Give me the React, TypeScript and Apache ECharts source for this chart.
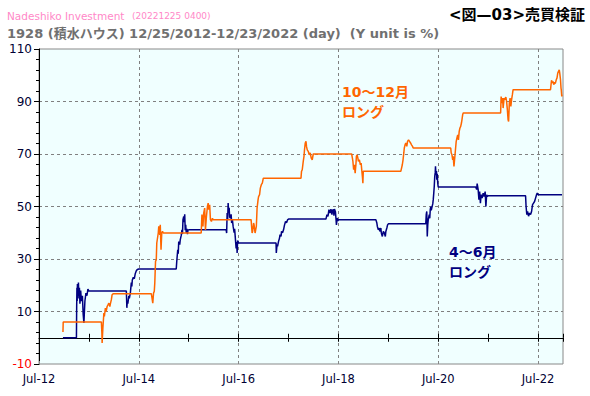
import React, { useEffect, useRef } from "react";
import * as echarts from "echarts";

// x values are decimal years, y values are % (cumulative return)
const X_ORIGIN = 2012.5; // Jul-12, left edge of plot
const X_END = 2023.0;
const Y_MIN = -10;
const Y_MAX = 110;

const yTickLabels = [-10, 10, 30, 50, 70, 90, 110];
const xTickLabels = ["Jul-12", "Jul-14", "Jul-16", "Jul-18", "Jul-20", "Jul-22"];

// 4～6月 ロング (Apr-Jun long)
const aprJunLong: [number, number][] = [
  [2012.98, 0],
  [2013.25, 0], [2013.255, 12], [2013.26, 19], [2013.265, 14], [2013.27, 20.5], [2013.28, 16], [2013.29, 21], [2013.30, 15],
  [2013.31, 19], [2013.32, 13], [2013.335, 18], [2013.35, 14], [2013.37, 16], [2013.385, 9], [2013.40, 5.6], [2013.41, 10],
  [2013.42, 14], [2013.44, 17], [2013.46, 16], [2013.48, 18.5], [2013.50, 17.8],
  [2014.25, 17.8], [2014.255, 15], [2014.26, 11.4], [2014.27, 14], [2014.28, 13], [2014.30, 16], [2014.31, 15], [2014.33, 17],
  [2014.35, 21], [2014.36, 19.5], [2014.37, 22], [2014.39, 23], [2014.41, 22.5], [2014.43, 24.5], [2014.45, 25.5], [2014.47, 26], [2014.50, 26.2],
  [2015.25, 26.2], [2015.26, 29], [2015.28, 33.5], [2015.29, 32], [2015.30, 36.7], [2015.32, 35.5], [2015.33, 37.3], [2015.35, 39],
  [2015.365, 41.1], [2015.375, 39.5], [2015.385, 45], [2015.40, 46.2], [2015.41, 44], [2015.42, 47], [2015.43, 41], [2015.44, 43],
  [2015.45, 40], [2015.465, 41.5], [2015.475, 39.5], [2015.485, 41], [2015.50, 41.1],
  [2016.25, 41.1], [2016.26, 39.9], [2016.27, 47.5], [2016.28, 45], [2016.29, 51.3], [2016.30, 48], [2016.31, 49.5], [2016.32, 46],
  [2016.335, 45.6], [2016.35, 47], [2016.36, 43.7], [2016.375, 45], [2016.39, 42.4], [2016.41, 40], [2016.42, 41.5], [2016.43, 39],
  [2016.45, 34], [2016.46, 36.5], [2016.47, 32.3], [2016.48, 37], [2016.50, 36.1],
  [2017.25, 36.1], [2017.255, 32.3], [2017.27, 35.5], [2017.28, 34.8], [2017.30, 36.7], [2017.32, 38], [2017.33, 39.3], [2017.35, 38.6],
  [2017.36, 40.5], [2017.38, 40], [2017.40, 41.1], [2017.42, 43], [2017.44, 44.3], [2017.46, 43.8], [2017.48, 44.9], [2017.50, 45.2],
  [2018.25, 45.2], [2018.27, 46.9], [2018.29, 46.2], [2018.31, 48.8], [2018.33, 47.5], [2018.35, 49], [2018.37, 46.9], [2018.38, 48.5],
  [2018.40, 48.8], [2018.41, 46.5], [2018.42, 49], [2018.44, 48], [2018.45, 45.5], [2018.46, 43], [2018.475, 45.6], [2018.49, 44.5], [2018.50, 45],
  [2019.25, 45], [2019.27, 43.7], [2019.28, 42.4], [2019.30, 41.1], [2019.32, 41.8], [2019.33, 40.5], [2019.35, 41.8], [2019.36, 39.9],
  [2019.38, 38.6], [2019.40, 40.5], [2019.42, 39.9], [2019.44, 38.6], [2019.45, 40.5], [2019.47, 41.8], [2019.485, 43], [2019.50, 43.4],
  [2020.25, 43.4], [2020.26, 47], [2020.27, 48.1], [2020.28, 38.6], [2020.29, 43], [2020.30, 45], [2020.32, 46.9], [2020.33, 45.5],
  [2020.34, 48.8], [2020.35, 50], [2020.36, 48.5], [2020.37, 49.4], [2020.39, 51], [2020.40, 52.6], [2020.41, 55], [2020.42, 57.6],
  [2020.43, 61.5], [2020.44, 63], [2020.445, 65.3], [2020.455, 62], [2020.465, 63.5], [2020.47, 60.2], [2020.48, 62.5], [2020.49, 58.9], [2020.50, 57.4],
  [2021.25, 57.4], [2021.27, 56.5], [2021.28, 58.7], [2021.30, 56.4], [2021.315, 52.6], [2021.33, 55.7], [2021.345, 51.3], [2021.36, 54.5],
  [2021.38, 53.2], [2021.40, 55.1], [2021.42, 53.8], [2021.44, 55.7], [2021.455, 50], [2021.47, 54.5], [2021.485, 53.8], [2021.50, 54.1],
  [2022.25, 54.1], [2022.26, 50], [2022.275, 46.9], [2022.29, 48.1], [2022.31, 46.3], [2022.33, 47.5], [2022.35, 46.9], [2022.37, 48.1],
  [2022.39, 50.7], [2022.41, 51.3], [2022.43, 51.9], [2022.45, 53.2], [2022.47, 54.5], [2022.485, 55.1], [2022.50, 54.5],
  [2022.98, 54.5],
];

// 10～12月 ロング (Oct-Dec long)
const octDecLong: [number, number][] = [
  [2012.98, 2.2], [2012.985, 6],
  [2013.75, 6], [2013.76, 1.8], [2013.765, -2], [2013.78, 3.7], [2013.80, 9.4], [2013.81, 8.1], [2013.83, 11.3], [2013.845, 10],
  [2013.865, 11.9], [2013.885, 12.6], [2013.90, 13.2], [2013.92, 11.9], [2013.93, 12.9], [2013.95, 14.5], [2013.965, 16.4], [2013.99, 16.8],
  [2014.75, 16.8], [2014.76, 15.7], [2014.78, 13.2], [2014.795, 17], [2014.81, 17.7], [2014.82, 20.8], [2014.835, 29.1], [2014.85, 29.7],
  [2014.86, 36.1], [2014.875, 38], [2014.89, 39.9], [2014.90, 42.5], [2014.92, 39.2], [2014.93, 43], [2014.945, 33.5], [2014.96, 39.9],
  [2014.975, 40.5], [2014.99, 39.9],
  [2015.75, 39.9], [2015.765, 46.9], [2015.785, 42.4], [2015.80, 47.5], [2015.82, 49.4], [2015.835, 41.1], [2015.855, 46.2], [2015.875, 50],
  [2015.89, 51.3], [2015.90, 48.8], [2015.92, 50.7], [2015.935, 45], [2015.955, 44.3], [2015.975, 45.5], [2015.99, 45],
  [2016.75, 45], [2016.77, 39.9], [2016.78, 40.5], [2016.80, 43.7], [2016.81, 43], [2016.83, 39.9], [2016.855, 42.4], [2016.87, 49.4],
  [2016.89, 52.6], [2016.90, 53.8], [2016.92, 54.5], [2016.935, 57], [2016.955, 58.3], [2016.975, 58.9], [2016.995, 60.8],
  [2017.75, 60.8], [2017.76, 63.4], [2017.775, 64], [2017.795, 67.2], [2017.81, 69.1], [2017.82, 71.6], [2017.835, 74.2], [2017.85, 74.8],
  [2017.86, 72.9], [2017.875, 71.6], [2017.895, 71], [2017.915, 69.7], [2017.935, 70.4], [2017.955, 68.4], [2017.975, 67.8], [2017.995, 70],
  [2018.75, 70], [2018.765, 70], [2018.78, 68.4], [2018.79, 67.2], [2018.805, 64], [2018.82, 65.9], [2018.835, 62.7], [2018.85, 65.9],
  [2018.86, 69.1], [2018.875, 69.7], [2018.89, 68.4], [2018.90, 67.2], [2018.92, 67.8], [2018.94, 65.9], [2018.955, 66.5], [2018.97, 63.4],
  [2018.98, 61.5], [2018.99, 58.9], [2018.998, 63.4],
  [2019.75, 63.4], [2019.78, 65.9], [2019.795, 67.8], [2019.81, 70.4], [2019.82, 72.3], [2019.835, 73.5], [2019.85, 74.2], [2019.87, 72.9],
  [2019.885, 74.8], [2019.905, 75.4], [2019.925, 74.8], [2019.945, 74.2], [2019.965, 73.5], [2019.985, 72.9], [2019.998, 72.3],
  [2020.75, 72.3], [2020.76, 70.4], [2020.775, 69.7], [2020.79, 67.8], [2020.80, 69.1], [2020.815, 65.3], [2020.83, 68.4], [2020.845, 71.6],
  [2020.86, 74.8], [2020.875, 76.1], [2020.89, 77.3], [2020.905, 75.4], [2020.92, 78.6], [2020.935, 79.9], [2020.95, 80.5], [2020.965, 81.8],
  [2020.975, 83], [2020.99, 85], [2021.0, 85.6],
  [2021.75, 85.6], [2021.76, 91.9], [2021.775, 89.4], [2021.79, 91.3], [2021.80, 87.5], [2021.82, 91.3], [2021.84, 90.7], [2021.855, 91.7],
  [2021.87, 90], [2021.885, 86.9], [2021.90, 83], [2021.91, 82.4], [2021.925, 89.4], [2021.94, 91.3], [2021.955, 88.1], [2021.97, 90.7],
  [2021.985, 92.5], [2022.0, 94.5],
  [2022.75, 94.5], [2022.76, 96.4], [2022.77, 98.1], [2022.785, 97.1], [2022.80, 97.7], [2022.815, 96.4], [2022.83, 97.3], [2022.845, 96.8],
  [2022.865, 98.3], [2022.88, 99], [2022.895, 100.8], [2022.91, 101.5], [2022.925, 102.1], [2022.935, 100.8], [2022.95, 98.3], [2022.96, 95.1],
  [2022.965, 94.5], [2022.975, 91.9], [2022.98, 92.6],
];

const FONT = "'DejaVu Sans', 'Noto Sans CJK JP', sans-serif";
const Y_SHIFT = -Y_MIN; // plot coordinate = value + 10, so ticks start at a multiple of the interval

const toPlot = (pts: [number, number][]) => pts.map(([t, v]) => [t - X_ORIGIN, v + Y_SHIFT]);

export default function App() {
  const ref = useRef<HTMLDivElement>(null);

  useEffect(() => {
    if (!ref.current) return;
    document.body.style.margin = "0";
    const chart = echarts.init(ref.current, null, { renderer: "svg" });
    const xMax = X_END - X_ORIGIN;
    const zeroOffset = -(Y_SHIFT / (Y_MAX - Y_MIN)) * 315;

    const xCommon = {
      type: "value" as const,
      min: 0,
      max: xMax,
      gridIndex: 0,
    };

    chart.setOption({
      animation: false,
      backgroundColor: "#ffffff",
      grid: {
        left: 39,
        right: 27,
        top: 49,
        bottom: 32,
        show: true,
        backgroundColor: "#f0ffff",
        borderColor: "#888888",
        borderWidth: 1,
      },
      xAxis: [
        {
          ...xCommon,
          position: "bottom",
          interval: 2,
          axisLine: { show: false },
          axisTick: { show: true, inside: true, length: 3, lineStyle: { color: "#888888" } },
          axisLabel: {
            show: true,
            margin: 9,
            color: "#000033",
            fontFamily: FONT,
            fontSize: 11.5,
            showMaxLabel: false,
            formatter: (v: number) => {
              const i = Math.round(v / 2);
              return Math.abs(v - i * 2) < 1e-6 && xTickLabels[i] ? xTickLabels[i] : "";
            },
          },
          splitLine: {
            show: true,
            showMinLine: false,
            showMaxLine: false,
            lineStyle: { color: "#808080", type: [3, 3], width: 1 },
          },
        },
        {
          ...xCommon,
          position: "bottom",
          offset: zeroOffset,
          interval: 1,
          axisLine: { show: true, onZero: false, lineStyle: { color: "#000000", width: 1 } },
          axisTick: { show: true, inside: true, length: 4, lineStyle: { color: "#000000" } },
          axisLabel: { show: false },
          splitLine: { show: false },
        },
        {
          ...xCommon,
          position: "bottom",
          offset: zeroOffset,
          interval: 1,
          axisLine: { show: false, onZero: false },
          axisTick: { show: true, inside: false, length: 4, lineStyle: { color: "#000000" } },
          axisLabel: { show: false },
          splitLine: { show: false },
        },
      ],
      yAxis: {
        type: "value",
        min: 0,
        max: Y_MAX - Y_MIN,
        interval: 20,
        axisLine: { show: true, lineStyle: { color: "#000000", width: 1 } },
        axisTick: { show: true, length: 5, lineStyle: { color: "#000000" } },
        minorTick: { show: true, splitNumber: 5, length: 3, lineStyle: { color: "#000000" } },
        axisLabel: {
          margin: 7,
          fontFamily: FONT,
          fontSize: 12,
          formatter: (v: number) => {
            const i = Math.round(v / 20);
            const val = yTickLabels[i];
            if (val === undefined) return "";
            return val < 0 ? `{neg|${val}}` : `{pos|${val}}`;
          },
          rich: {
            neg: { color: "#ff0000", fontFamily: FONT, fontSize: 12 },
            pos: { color: "#000033", fontFamily: FONT, fontSize: 12 },
          },
        },
        splitLine: {
          show: true,
          showMinLine: false,
          showMaxLine: false,
          lineStyle: { color: "#808080", type: [3, 3], width: 1 },
        },
      },
      series: [
        {
          name: "4～6月ロング",
          type: "line",
          xAxisIndex: 0,
          yAxisIndex: 0,
          data: toPlot(aprJunLong),
          showSymbol: false,
          symbol: "none",
          lineStyle: { color: "#000080", width: 1.5 },
          itemStyle: { color: "#000080" },
          z: 3,
        },
        {
          name: "10～12月ロング",
          type: "line",
          xAxisIndex: 0,
          yAxisIndex: 0,
          data: toPlot(octDecLong),
          showSymbol: false,
          symbol: "none",
          lineStyle: { color: "#ff6600", width: 1.5 },
          itemStyle: { color: "#ff6600" },
          z: 4,
        },
      ],
      graphic: [
        {
          type: "text",
          x: 7,
          y: 16,
          style: {
            text: "Nadeshiko Investment",
            fill: "#ff88c8",
            font: `10.5px ${FONT}`,
            verticalAlign: "middle",
          },
        },
        {
          type: "text",
          x: 132,
          y: 16,
          style: {
            text: "(20221225 0400)",
            fill: "#ff88c8",
            font: `9px ${FONT}`,
            verticalAlign: "middle",
          },
        },
        {
          type: "text",
          x: 7,
          y: 33,
          style: {
            text: "1928 (積水ハウス) 12/25/2012-12/23/2022 (day)  (Y unit is %)",
            fill: "#707070",
            font: `bold 13px ${FONT}`,
            verticalAlign: "middle",
          },
        },
        {
          type: "text",
          x: 585,
          y: 15,
          style: {
            text: "<図—03>売買検証",
            fill: "#000000",
            font: `bold 15px ${FONT}`,
            align: "right",
            verticalAlign: "middle",
          },
        },
        {
          type: "text",
          x: 342,
          y: 82,
          style: {
            text: "10～12月\nロング",
            fill: "#ff6600",
            font: `bold 14px ${FONT}`,
            lineHeight: 20,
          },
        },
        {
          type: "text",
          x: 449,
          y: 242,
          style: {
            text: "4～6月\nロング",
            fill: "#000080",
            font: `bold 14px ${FONT}`,
            lineHeight: 20,
          },
        },
      ],
    });
    return () => chart.dispose();
  }, []);

  return <div ref={ref} style={{ width: 590, height: 396 }} />;
}
